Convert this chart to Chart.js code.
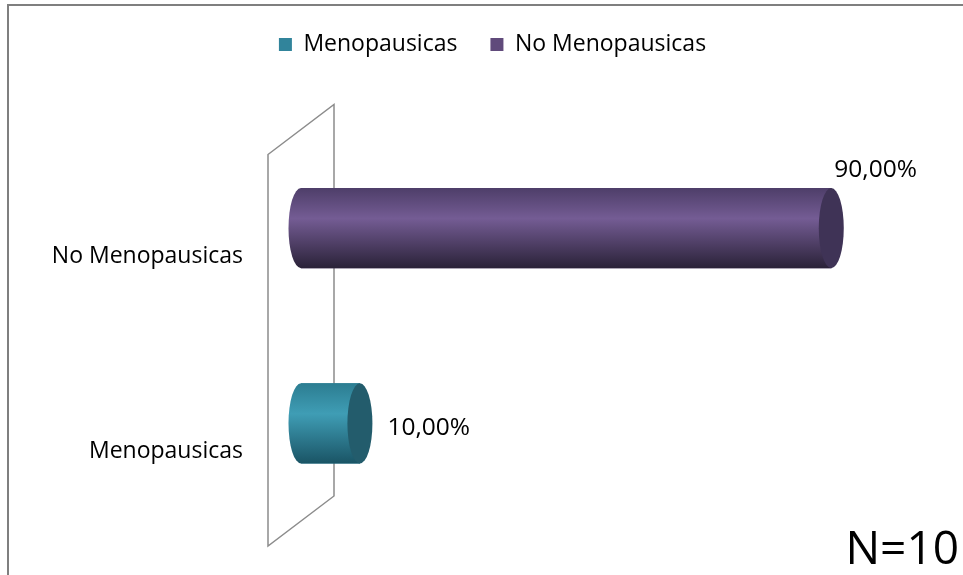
<!DOCTYPE html>
<html>
<head>
<meta charset="utf-8">
<script src="https://cdn.jsdelivr.net/npm/chart.js@4.4.1/dist/chart.umd.min.js"></script>
<style>
  html, body { margin: 0; padding: 0; background: #fff; }
  #wrap { position: relative; width: 963px; height: 575px; }
  #frame { position: absolute; left: 7px; top: 4px; right: 0; bottom: 0;
           border-left: 2px solid #7f7f7f; border-top: 2px solid #7f7f7f; }
  #note { position: absolute; right: 4px; bottom: 6px; font: 46px "Open Sans", sans-serif; color: #000; line-height: 1; }
</style>
</head>
<body>
<div id="wrap">
  <div id="frame"></div>
  <canvas id="chart" width="963" height="575"></canvas>
  <div id="note">N=10</div>
</div>
<script>
// ── Data ──
const categories = ['No Menopausicas', 'Menopausicas'];
const seriesNames = ['Menopausicas', 'No Menopausicas'];
const menoValues = [null, 10];
const noMenoValues = [90, null];

const FONT = '"Open Sans", sans-serif';

// cylinder colours: [top, mid, bottom, cap]
const shades = {
  'Menopausicas':    ['#2c7d91', '#3f9db5', '#1a5465', '#235c6c'],
  'No Menopausicas': ['#4e3e69', '#745c94', '#2a2238', '#3f3356']
};

const fmt = v => v.toFixed(2).replace('.', ',') + '%';

// ── Back wall + cylinders + value labels ──
const cylinders = {
  id: 'cylinders',
  beforeDatasetsDraw(chart) {
    const { ctx, chartArea } = chart;
    const x0 = chart.scales.x.getPixelForValue(0);
    const depth = 33;
    ctx.save();
    ctx.strokeStyle = '#8c8c8c';
    ctx.lineWidth = 1.5;
    ctx.beginPath();
    ctx.moveTo(x0 - depth, chartArea.top + 24);
    ctx.lineTo(x0 + depth, chartArea.top - 26);
    ctx.lineTo(x0 + depth, chartArea.bottom - 25);
    ctx.lineTo(x0 - depth, chartArea.bottom + 25);
    ctx.closePath();
    ctx.stroke();
    ctx.restore();
  },
  afterDatasetsDraw(chart) {
    const { ctx } = chart;
    chart.data.datasets.forEach((ds, di) => {
      const meta = chart.getDatasetMeta(di);
      const c = shades[ds.label];
      meta.data.forEach((bar, i) => {
        const v = ds.data[i];
        if (v == null) return;
        const top = bar.y - bar.height / 2, h = bar.height;
        const rx = 12.5, ry = h / 2;
        const g = ctx.createLinearGradient(0, top, 0, top + h);
        g.addColorStop(0, c[0]);
        g.addColorStop(0.38, c[1]);
        g.addColorStop(1, c[2]);
        ctx.save();
        // body with rounded back end
        ctx.fillStyle = g;
        ctx.beginPath();
        ctx.ellipse(bar.base, bar.y, rx, ry, 0, Math.PI / 2, Math.PI * 1.5);
        ctx.lineTo(bar.x, top);
        ctx.lineTo(bar.x, top + h);
        ctx.closePath();
        ctx.fill();
        // front cap
        ctx.fillStyle = c[3];
        ctx.beginPath();
        ctx.ellipse(bar.x, bar.y, rx, ry, 0, 0, Math.PI * 2);
        ctx.fill();
        // value label
        ctx.fillStyle = '#000';
        ctx.font = '24.5px ' + FONT;
        ctx.textBaseline = 'middle';
        ctx.textAlign = 'left';
        if (ds.labelPos === 'above') {
          ctx.fillText(fmt(v), bar.x + 3, top - 18);
        } else {
          ctx.fillText(fmt(v), bar.x + rx + 15, bar.y + 5);
        }
        ctx.restore();
      });
    });
  }
};

new Chart(document.getElementById('chart'), {
  type: 'bar',
  data: {
    labels: categories,
    datasets: [
      { label: seriesNames[0], data: menoValues, backgroundColor: '#31849b', labelPos: 'right' },
      { label: seriesNames[1], data: noMenoValues, backgroundColor: '#604a7b', labelPos: 'above' }
    ]
  },
  options: {
    indexAxis: 'y',
    responsive: false,
    animation: false,
    layout: { padding: { left: 30, right: 8, top: 0, bottom: 54 } },
    datasets: { bar: { barPercentage: 0.82, categoryPercentage: 0.5, borderWidth: 0 } },
    elements: { bar: { backgroundColor: 'rgba(0,0,0,0)' } },
    plugins: {
      legend: {
        position: 'top',
        labels: {
          color: '#000', boxWidth: 13, boxHeight: 13, padding: 33,
          font: { family: FONT, size: 23 },
          generateLabels: chart => chart.data.datasets.map((ds, i) => ({
            text: ds.label, fillStyle: ds.backgroundColor, strokeStyle: ds.backgroundColor,
            lineWidth: 0, datasetIndex: i, hidden: false
          }))
        }
      },
      tooltip: { enabled: false }
    },
    scales: {
      x: {
        position: 'top', min: 0, max: 111,
        ticks: { display: false }, grid: { display: false }, border: { display: false },
        afterFit: s => { s.height = 64.5; }
      },
      y: {
        stacked: true,
        grid: { display: false, drawTicks: false }, border: { display: false },
        ticks: { color: '#000', padding: 58, labelOffset: 28, font: { family: FONT, size: 23 } },
        afterFit: s => { s.width = 271; s.paddingTop = 0; s.paddingBottom = 0; }
      }
    }
  },
  plugins: [cylinders]
});
</script>
</body>
</html>
